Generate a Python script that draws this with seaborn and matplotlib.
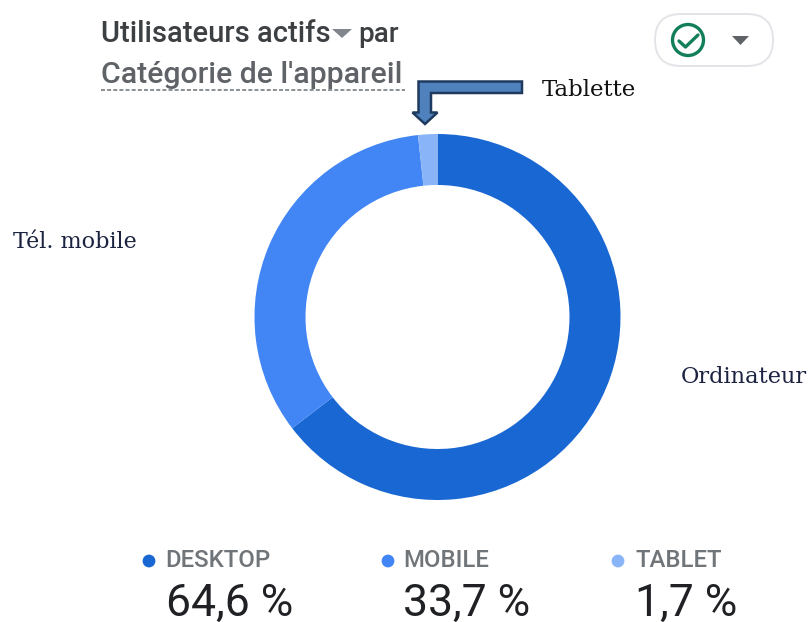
import matplotlib.pyplot as plt
import seaborn as sns
import pandas as pd
from matplotlib.patches import Circle, FancyBboxPatch, Polygon

categories = ['DESKTOP', 'MOBILE', 'TABLET']
values = [64.6, 33.7, 1.7]
value_labels = ['64,6 %', '33,7 %', '1,7 %']
colors = ['#1967d2', '#4285f4', '#8ab4f8']
french_labels = ['Ordinateur', 'Tél. mobile', 'Tablette']

sns.set_theme(style="white")
plt.rcParams['font.family'] = ['Roboto', 'DejaVu Sans']

W, H = 811, 622
fig = plt.figure(figsize=(W / 100, H / 100), dpi=100)

# donut, placed by pixel box
cx, cy, r = 437.5, 317, 183
ax_pie = fig.add_axes([(cx - r) / W, 1 - (cy + r) / H, 2 * r / W, 2 * r / H])
ax_pie.pie(values, colors=colors, startangle=90, counterclock=False, radius=1,
           wedgeprops=dict(width=51 / 183, linewidth=0))
ax_pie.set_xlim(-1, 1)
ax_pie.set_ylim(-1, 1)

# overlay in pixel coordinates for everything else
ax = fig.add_axes([0, 0, 1, 1], zorder=5)
ax.patch.set_alpha(0)

# legend dots
legend_df = pd.DataFrame({'cat': categories, 'x': [149, 388, 618], 'y': [561, 561, 561]})
sns.scatterplot(data=legend_df, x='x', y='y', hue='cat', palette=colors, s=85,
                linewidth=0, legend=False, ax=ax)
ax.set_xlim(0, W)
ax.set_ylim(H, 0)
ax.axis('off')

# title
ax.text(101, 42, 'Utilisateurs actifs', fontsize=21, weight='medium', color='#3c4043')
ax.text(358, 42, 'par', fontsize=20, weight='medium', color='#3c4043')
ax.text(101, 83, "Catégorie de l'appareil", fontsize=21.8, weight='medium', color='#5f6368')
ax.plot([101, 405], [90, 90], color='#80868b', lw=1.3, ls=(0, (2.2, 1.2)))
ax.add_patch(Polygon([(332, 29), (352, 29), (342, 38)], color='#80868b', lw=0))

# compare pill
ax.add_patch(FancyBboxPatch((655, 14), 118, 52, boxstyle='round,pad=0,rounding_size=26',
                            fc='white', ec='#e3e4e8', lw=1.4))
ax.add_patch(Circle((688, 40), 15.5, fc='none', ec='#137e5a', lw=2.4))
ax.plot([679, 685.5, 698], [41, 47, 35], color='#137e5a', lw=2.4, solid_capstyle='round')
ax.add_patch(Polygon([(732, 36), (749, 36), (740.5, 45)], color='#5f6368', lw=0))

# arrow to the tablet slice
ax.add_patch(Polygon([(522, 81.5), (418.5, 81.5), (418.5, 112.5), (412.5, 112.5), (425, 124),
                      (437.5, 112.5), (431, 112.5), (431, 93), (522, 93)],
                     fc='#4f81bd', ec='#1f3a5f', lw=1.8, joinstyle='miter'))

# french labels
serif = ['DejaVu Serif']
ax.text(681, 383, french_labels[0], fontsize=16.2, family=serif, color='#1b2340')
ax.text(13, 248, french_labels[1], fontsize=16, family=serif, color='#1b2340')
ax.text(542, 96, french_labels[2], fontsize=16.5, family=serif, color='#111111')

# legend texts and values
for cat, lab, xt, xv in zip(categories, value_labels, [165, 403, 636], [166, 403, 635]):
    ax.text(xt, 567, cat, fontsize=17.2, weight='medium', color='#70757a')
    ax.text(xv, 616, lab, fontsize=32, color='#202124')

fig.savefig('out.png', dpi=100)
